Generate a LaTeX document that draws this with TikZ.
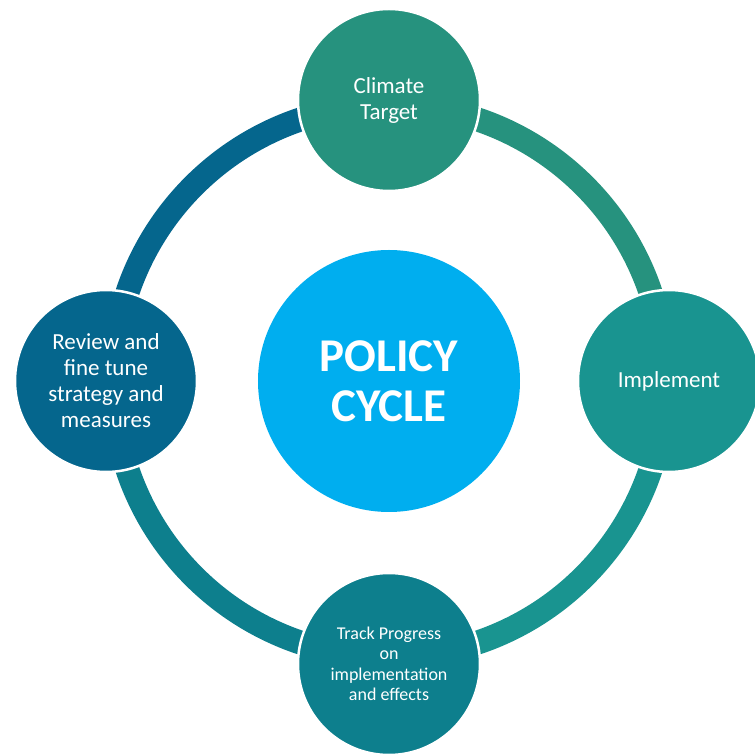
\documentclass[tikz,border=0pt]{standalone}
\usepackage{fontspec}
\setmainfont{Carlito}
\usepackage{tikz}

\definecolor{ctop}{HTML}{26927E}
\definecolor{cright}{HTML}{199490}
\definecolor{cbottom}{HTML}{0D7F8D}
\definecolor{cleft}{HTML}{05668D}
\definecolor{ccenter}{HTML}{00AEEF}

\begin{document}
\begin{tikzpicture}[x=1pt, y=1pt,
    stage/.style={circle, minimum size=182pt, inner sep=0pt, draw=white,
                  line width=2.5pt, text=white, align=center,
                  font=\fontsize{23}{26}\selectfont},
    ring/.style={line width=24pt}]

\useasboundingbox (-389,-373) rectangle (366,381);

% points where the ring runs under the stages
\coordinate (O) at (0,0);
\coordinate (r0) at (90:276);
\coordinate (r1) at (0:276);
\coordinate (r2) at (-90:276);
\coordinate (r3) at (180:276);

\draw [ring, draw=cleft]   (r3) to [bend left=45] (r0);
\draw [ring, draw=ctop]    (r0) to [bend left=45] (r1);
\draw [ring, draw=cright]  (r1) to [bend left=45] (r2);
\draw [ring, draw=cbottom] (r2) to [bend left=45] (r3);

\node [stage, fill=ctop]    (target)    at (0,281)  {Climate\\Target};
\node [stage, fill=cright]  (implement) at (280,0)  {Implement};
\node [stage, fill=cbottom, font=\fontsize{18}{20.5}\selectfont]
                            (track)     at (0,-283) {Track Progress\\on\\implementation\\and effects};
\node [stage, fill=cleft]   (review)    at (-283,0) {Review and\\fine tune\\strategy and\\measures};

\node [circle, fill=ccenter, minimum size=262pt, inner sep=0pt, text=white,
       align=center, font=\bfseries\fontsize{47}{50}\selectfont]
       (policy) at (O) {POLICY\\CYCLE};

\end{tikzpicture}
\end{document}
